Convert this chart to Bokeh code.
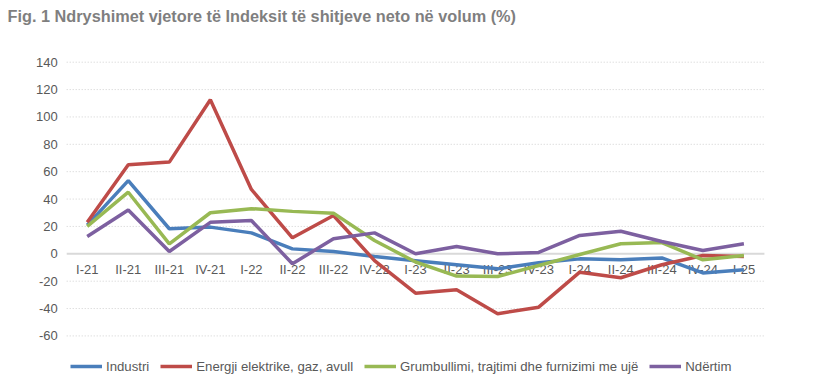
from bokeh.plotting import figure
from bokeh.models import Range1d, Legend, LegendItem, Label
from bokeh.core.properties import value
from bokeh.embed import file_html
from bokeh.resources import INLINE

periods = ["I-21", "II-21", "III-21", "IV-21", "I-22", "II-22", "III-22", "IV-22",
           "I-23", "II-23", "III-23", "IV-23", "I-24", "II-24", "III-24", "IV-24", "I-25"]
industri = [21, 53.5, 18.3, 19.5, 15.3, 3.6, 1.7, -2, -5, -8, -11, -6.6, -3.7, -4.4, -3, -14, -11.7]
energji = [23, 65, 67, 112.5, 47, 11.7, 28, -5, -28.8, -26.3, -43.8, -39, -13.4, -17.5, -8, -1.2, -2]
grumbullimi = [20, 45, 7.3, 30, 33, 31, 29.7, 9.7, -6, -16.3, -16.6, -8.5, -0.5, 7.3, 8.2, -4.4, -1.2]
ndertim = [12.6, 32, 1.7, 23, 24.3, -7.3, 11, 15.3, 0, 5.3, 0, 1, 13.4, 16.5, 9, 2.4, 7.3]
y_ticks = [-60, -40, -20, 0, 20, 40, 60, 80, 100, 120, 140]
y_tick_labels = ["-60", "-40", "-20", "0", "20", "40", "60", "80", "100", "120", "140"]
title_text = "Fig. 1 Ndryshimet vjetore të Indeksit të shitjeve neto në volum (%)"

series = [
    ("Industri", industri, "#4A7EBB"),
    ("Energji elektrike, gaz, avull", energji, "#BE4B48"),
    ("Grumbullimi, trajtimi dhe furnizimi me ujë", grumbullimi, "#98B954"),
    ("Ndërtim", ndertim, "#7D60A0"),
]

FONT = value("Liberation Sans")
TXT = "#595959"

xs = list(range(len(periods)))
x_left = xs[0] - 0.5
x_right = xs[-1] + 0.5

p = figure(width=814, height=376, output_backend="svg", toolbar_location=None,
           x_range=Range1d(-2.113, 17.72), y_range=Range1d(-89.65, 185.08),
           x_axis_location=None, y_axis_location=None,
           min_border_left=0, min_border_right=0, min_border_top=0, min_border_bottom=0)
p.outline_line_color = None
p.background_fill_color = "white"
p.border_fill_color = "white"
p.grid.visible = False

# dotted horizontal gridlines across the category span
grid_vals = [t for t in y_ticks if t != 0]
p.segment(x0=[x_left] * len(grid_vals), x1=[x_right] * len(grid_vals), y0=grid_vals, y1=grid_vals,
          line_color="#D0D0D0", line_dash="1 2", line_width=1)
# solid zero line
p.segment(x0=[x_left], x1=[x_right], y0=[0], y1=[0], line_color="#D9D9D9", line_width=2)

# y tick labels
p.text(x=[x_left] * len(y_ticks), y=y_ticks, text=y_tick_labels, text_align="right",
       text_baseline="middle", x_offset=-9, text_font=FONT, text_font_size="13px", text_color=TXT)

# category labels just below the zero line
p.text(x=xs, y=[0] * len(periods), text=periods, text_align="center", text_baseline="top",
       y_offset=8, text_font=FONT, text_font_size="13px", text_color=TXT)

items = []
for name, vals, col in series:
    r = p.line(x=xs, y=vals, line_color=col, line_width=3.5)
    items.append(LegendItem(label=name, renderers=[r]))

title = Label(x=7, y=361, x_units="screen", y_units="screen", text=title_text,
              text_font="Liberation Sans", text_font_size="16.3px", text_font_style="bold",
              text_color="#7F7F7F", text_align="left", text_baseline="middle")
p.add_layout(title)

leg = Legend(items=items, orientation="horizontal", location=(70, 0),
             glyph_width=32, glyph_height=20, label_standoff=4, spacing=11,
             padding=0, margin=0, border_line_color=None, background_fill_alpha=0,
             label_text_font="Liberation Sans", label_text_font_size="13.2px", label_text_color=TXT)
p.add_layout(leg)

open("out.html", "w").write(file_html(p, INLINE))
